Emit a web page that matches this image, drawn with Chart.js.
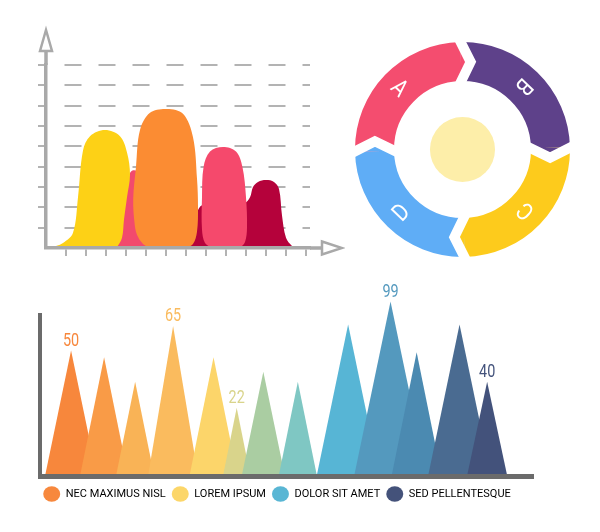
<!DOCTYPE html>
<html>
<head>
<meta charset="utf-8">
<title>Infographic charts</title>
<script src="https://cdn.jsdelivr.net/npm/chart.js@4.4.0/dist/chart.umd.min.js"></script>
<style>
  html, body { margin: 0; padding: 0; background: #fff; }
  #wrap { position: relative; width: 600px; height: 532px; overflow: hidden; }
  canvas { position: absolute; }
  #bellChart { left: 0; top: 0; }
  #cycleChart { left: 355px; top: 42px; }
  #peakChart { left: 0; top: 280px; }
</style>
</head>
<body>
<div id="wrap">
  <canvas id="bellChart" width="345" height="270"></canvas>
  <canvas id="cycleChart" width="215" height="215"></canvas>
  <canvas id="peakChart" width="600" height="252"></canvas>
</div>
<script>
// ---- top left: bell curves, [x, y] in tick steps / grid steps ----
const bellYellow = [[0.2,0],[0.85,0.25],[1.35,0.75],[1.6,2.5],[1.85,4.8],[2.2,5.5],[2.95,5.8],[3.7,5.5],[4.05,4.7],[4.2,3.6],[4.05,2.5],[3.9,1.4],[3.8,0.5],[3.55,0.05],[3.4,0]];
const bellOrange = [[5.2,0],[4.85,0.2],[4.55,0.65],[4.43,1.2],[4.36,2.4],[4.5,4.0],[4.7,5.8],[5.2,6.65],[6.05,6.84],[6.85,6.6],[7.35,5.45],[7.55,3.4],[7.6,2.0],[7.55,0.8],[7.35,0.2],[6.95,0]];
const bellPink = [[8.3,0],[7.95,0.25],[7.8,0.9],[7.8,2.5],[7.88,4.0],[8.2,4.75],[8.85,4.97],[9.5,4.75],[9.82,4.0],[10.0,2.5],[10.05,1.0],[9.95,0.3],[9.7,0]];
const bellDarkRed = [[6.9,0],[7.2,0.6],[7.5,1.6],[7.8,2.1],[8.8,2.2],[9.9,2.2],[10.2,2.5],[10.35,3.0],[10.6,3.25],[11.0,3.34],[11.4,3.25],[11.65,2.9],[11.8,1.6],[12.0,0.5],[12.3,0.1],[12.55,0]];
const bellPinkBack = [[2.9,0],[3.3,0.3],[3.6,0.9],[3.9,2.0],[4.1,3.2],[4.3,3.8],[5.0,3.6],[5.5,3.0],[6.3,1.0],[6.7,0]];

// ---- top right: cycle ring, clockwise from the top ----
const cycleLabels = ['B', 'C', 'D', 'A'];
const cycleValues = [1, 1, 1, 1];
const cycleColors = ['#5e418a', '#fdcb1c', '#5fadf6', '#f44d6f'];

// ---- bottom: peaks ----
const peakPos = [6.3, 13.0, 19.3, 27.0, 35.2, 39.9, 45.3, 52.3, 62.5, 71.1, 76.4, 85.1, 90.7];
const peakHalfWidth = [5.3, 4.9, 3.9, 5.1, 4.9, 2.8, 4.4, 3.9, 6.4, 7.4, 5.1, 6.4, 4.1];
const peakHeight = [77, 73, 58, 92, 73, 42, 64, 58, 93, 107, 76, 93, 58];
const peakLabels = ['50', '', '', '65', '', '22', '', '', '', '99', '', '', '40'];
const peakColors = ['#f7873c', '#f99b47', '#f9b356', '#fabb5e', '#fcd56a', '#d9d48b', '#aacda2', '#7fc7c3', '#57b5d5', '#5499be', '#4b8ab1', '#4a6b91', '#43527b'];
const legendNames = ['NEC MAXIMUS NISL', 'LOREM IPSUM', 'DOLOR SIT AMET', 'SED PELLENTESQUE'];
const legendColors = ['#f7883d', '#fcd669', '#59b6d4', '#44527a'];

const hide = c => (c.tick && c.tick.value === 0) ? 'rgba(0,0,0,0)' : '#b3b3b3';
const toXY = arr => arr.map(p => ({x: p[0], y: p[1]}));

// closed bell shape dataset
function bellSet(points, color) {
    return {
        data: toXY(points),
        backgroundColor: color,
        borderWidth: 0,
        pointRadius: 0,
        tension: 0.35,
        fill: 'shape'
    };
}

// hollow arrow heads at the end of both axes
const axisArrows = {
    id: 'axisArrows',
    afterDraw(chart) {
        const {ctx, chartArea: a} = chart;
        ctx.save();
        ctx.strokeStyle = '#a9a9a9';
        ctx.fillStyle = '#fff';
        ctx.lineWidth = 3.5;
        ctx.beginPath();
        ctx.moveTo(a.left, a.top); ctx.lineTo(a.left, a.top - 22);
        ctx.moveTo(a.right, a.bottom); ctx.lineTo(a.right + 16, a.bottom);
        ctx.stroke();
        ctx.lineWidth = 2.5;
        ctx.beginPath();
        ctx.moveTo(a.left - 6, a.top - 14); ctx.lineTo(a.left, a.top - 35); ctx.lineTo(a.left + 6, a.top - 14);
        ctx.closePath(); ctx.fill(); ctx.stroke();
        ctx.beginPath();
        ctx.moveTo(a.right + 12, a.bottom - 6.5); ctx.lineTo(a.right + 32, a.bottom); ctx.lineTo(a.right + 12, a.bottom + 6.5);
        ctx.closePath(); ctx.fill(); ctx.stroke();
        ctx.restore();
    }
};

new Chart(document.getElementById('bellChart'), {
    type: 'line',
    data: {
        datasets: [
            bellSet(bellYellow, '#fdd116'),
            bellSet(bellOrange, '#fb8c33'),
            bellSet(bellPink, '#f5496c'),
            bellSet(bellDarkRed, '#b5023b'),
            bellSet(bellPinkBack, '#f24a6d')
        ]
    },
    options: {
        responsive: false,
        animation: false,
        devicePixelRatio: 1,
        events: [],
        layout: { padding: { left: 38, right: 35, top: 65, bottom: 14 } },
        plugins: { legend: { display: false }, tooltip: { enabled: false } },
        scales: {
            x: {
                type: 'linear', min: 0, max: 13.2,
                ticks: { display: false, stepSize: 1, includeBounds: false },
                grid: { drawOnChartArea: false, drawTicks: true, tickLength: 8, lineWidth: 2, color: hide },
                border: { color: '#a9a9a9', width: 3.5, z: 1 }
            },
            y: {
                type: 'linear', min: 0, max: 9,
                ticks: { display: false, stepSize: 1 },
                grid: { drawTicks: true, tickLength: 8, lineWidth: 2, color: hide },
                border: { color: '#a9a9a9', width: 3.5, z: 1, dash: [17, 17], dashOffset: 17 }
            }
        }
    },
    plugins: [axisArrows]
});

// centre disc, arrow tips and letters on the ring
const cycleDecor = {
    id: 'cycleDecor',
    beforeDatasetsDraw(chart) {
        const arc = chart.getDatasetMeta(0).data[0];
        const {ctx} = chart;
        ctx.save();
        ctx.fillStyle = '#fdeea9';
        ctx.beginPath();
        ctx.arc(arc.x, arc.y, arc.innerRadius * 0.475, 0, Math.PI * 2);
        ctx.fill();
        ctx.restore();
    },
    afterDatasetsDraw(chart) {
        const {ctx} = chart;
        const arcs = chart.getDatasetMeta(0).data;
        ctx.save();
        arcs.forEach((arc, i) => {
            const {x, y, endAngle, innerRadius, outerRadius} = arc;
            const mid = (innerRadius + outerRadius) / 2;
            const pt = (r, a) => [x + r * Math.cos(a), y + r * Math.sin(a)];
            const o = pt(outerRadius, endAngle);
            const m = pt(mid, endAngle + 0.11);
            const n = pt(innerRadius, endAngle);
            // arrow point pushed into the next segment
            ctx.fillStyle = cycleColors[i];
            ctx.beginPath();
            ctx.moveTo(o[0], o[1]); ctx.lineTo(m[0], m[1]); ctx.lineTo(n[0], n[1]);
            ctx.closePath(); ctx.fill();
            // white chevron gap
            ctx.strokeStyle = '#fff';
            ctx.lineWidth = 10;
            ctx.lineJoin = 'miter';
            ctx.beginPath();
            ctx.moveTo(o[0] + (o[0] - m[0]) * 0.5, o[1] + (o[1] - m[1]) * 0.5);
            ctx.lineTo(m[0], m[1]);
            ctx.lineTo(n[0] + (n[0] - m[0]) * 0.5, n[1] + (n[1] - m[1]) * 0.5);
            ctx.stroke();
        });
        // letters follow the ring
        ctx.fillStyle = '#fff';
        ctx.font = '24px Roboto';
        ctx.textAlign = 'center';
        ctx.textBaseline = 'middle';
        arcs.forEach((arc, i) => {
            const a = (arc.startAngle + arc.endAngle) / 2;
            const r = (arc.innerRadius + arc.outerRadius) / 2;
            ctx.save();
            ctx.translate(arc.x + r * Math.cos(a), arc.y + r * Math.sin(a));
            ctx.rotate(a + Math.PI);
            ctx.scale(0.85, 1);
            ctx.fillText(cycleLabels[i], 0, 1);
            ctx.restore();
        });
        ctx.restore();
    }
};

new Chart(document.getElementById('cycleChart'), {
    type: 'doughnut',
    data: {
        labels: cycleLabels,
        datasets: [{ data: cycleValues, backgroundColor: cycleColors, borderWidth: 0 }]
    },
    options: {
        responsive: false,
        animation: false,
        devicePixelRatio: 1,
        events: [],
        rotation: -1,
        cutout: '63.7%',
        plugins: { legend: { display: false }, tooltip: { enabled: false } }
    },
    plugins: [cycleDecor]
});

// left axis line (stops at 100) and the value labels above some peaks
const peakDecor = {
    id: 'peakDecor',
    afterDatasetsDraw(chart) {
        const {ctx, chartArea: a} = chart;
        const yScale = chart.scales.y;
        ctx.save();
        ctx.strokeStyle = '#6b6b6b';
        ctx.lineWidth = 4;
        ctx.beginPath();
        ctx.moveTo(a.left, yScale.getPixelForValue(100));
        ctx.lineTo(a.left, a.bottom + 2.5);
        ctx.stroke();

        ctx.font = '18px Roboto';
        ctx.textAlign = 'center';
        ctx.textBaseline = 'alphabetic';
        peakLabels.forEach((txt, i) => {
            if (!txt) return;
            const top = chart.getDatasetMeta(i).data[1];
            ctx.save();
            ctx.translate(top.x, top.y - 5);
            ctx.scale(0.8, 1);
            ctx.fillStyle = peakColors[i];
            ctx.fillText(txt, 0, 0);
            ctx.restore();
        });
        ctx.restore();
    }
};

const peakSets = peakPos.map((p, i) => ({
    data: [
        {x: p - peakHalfWidth[i], y: 0},
        {x: p, y: peakHeight[i]},
        {x: p + peakHalfWidth[i], y: 0}
    ],
    backgroundColor: peakColors[i],
    borderWidth: 0,
    pointRadius: 0,
    tension: 0,
    fill: 'origin',
    order: -i // later peaks sit in front
}));

new Chart(document.getElementById('peakChart'), {
    type: 'line',
    data: { datasets: peakSets },
    options: {
        responsive: false,
        animation: false,
        devicePixelRatio: 1,
        events: [],
        layout: { padding: { left: 0, right: 46, top: 8.5, bottom: 22.5 } },
        plugins: {
            tooltip: { enabled: false },
            legend: {
                position: 'bottom',
                align: 'center',
                labels: {
                    usePointStyle: true,
                    pointStyle: 'circle',
                    pointStyleWidth: 17,
                    padding: 6,
                    color: '#333',
                    font: { size: 11, family: 'Roboto' },
                    generateLabels: () => legendNames.map((name, i) => ({
                        text: name,
                        fillStyle: legendColors[i],
                        strokeStyle: legendColors[i],
                        lineWidth: 0,
                        pointStyle: 'circle',
                        hidden: false,
                        datasetIndex: i
                    }))
                }
            }
        },
        scales: {
            x: {
                type: 'linear', min: 0, max: 100,
                ticks: { display: false },
                grid: { display: false, drawTicks: false },
                border: { color: '#6b6b6b', width: 5, z: 1 },
                afterFit: s => { s.height = 6; }
            },
            y: {
                type: 'linear', position: 'left', min: 0, max: 115,
                ticks: { display: false },
                grid: { display: false, drawTicks: false },
                border: { display: false },
                afterFit: s => { s.width = 40; }
            },
            yRight: {
                type: 'linear', position: 'right', min: 0, max: 1,
                ticks: { display: false },
                grid: { display: false, drawTicks: false },
                border: { display: false },
                afterFit: s => { s.width = 21; }
            }
        }
    },
    plugins: [peakDecor]
});
</script>
</body>
</html>
